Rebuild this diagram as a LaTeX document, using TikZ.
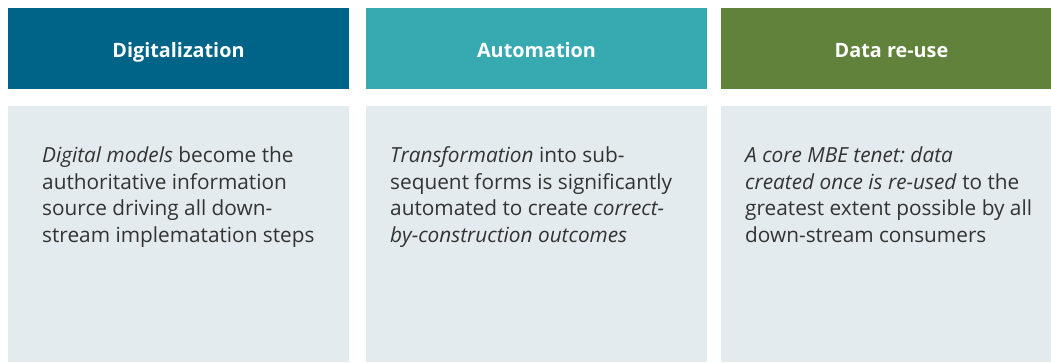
\documentclass[tikz,border=0pt]{standalone}
\usepackage{fontspec}
\setmainfont{Open Sans}
\frenchspacing
\usetikzlibrary{positioning}
\definecolor{petrol}{HTML}{006388}
\definecolor{lagoon}{HTML}{37A9B0}
\definecolor{moss}{HTML}{61823A}
\definecolor{pale}{HTML}{E3EBEE}
\definecolor{ink}{HTML}{333333}

\begin{document}
\begin{tikzpicture}[x=1pt, y=-1pt]
\tikzstyle{head}=[anchor=north west, minimum width=341pt, minimum height=81pt, inner sep=0pt, outer sep=0pt, text height=17.6pt, text depth=0pt, text=white, font=\fontsize{19.8}{22}\selectfont\bfseries]
\tikzstyle{body}=[anchor=north west, fill=pale, minimum width=341pt, minimum height=256pt, inner sep=0pt, outer sep=0pt]
\tikzstyle{blurb}=[anchor=north west, align=left, inner sep=0pt, text=ink, font=\fontsize{20.8}{26.6}\selectfont]
\useasboundingbox (0,0) rectangle (1051,362);
% headers
\node[head, fill=petrol]                 (dig)   at (8,8) {Digitalization};
\node[head, fill=lagoon, right=17pt of dig]  (auto)  {Automation};
\node[head, fill=moss, right=14pt of auto]   (reuse) {Data re-use};
% bodies
\node[body, below=17pt of dig]   (digbody)   {};
\node[body, below=17pt of auto]  (autobody)  {};
\node[body, below=17pt of reuse] (reusebody) {};
% texts
\node[blurb] (digtext) at ([xshift=34pt, yshift=-40.5pt]digbody.north west)
  {\textit{Digital models} become the\\authoritative information\\source driving all down-\\stream implematation steps};
\node[blurb] (autotext) at ([xshift=24pt, yshift=-40.5pt]autobody.north west)
  {\textit{Transformation} into sub-\\sequent forms is significantly\\automated to create \textit{correct-}\\\textit{by-construction outcomes}};
\node[blurb] (reusetext) at ([xshift=24pt, yshift=-40.5pt]reusebody.north west)
  {\textit{A core MBE tenet: data}\\\textit{created once is re-used} to the\\greatest extent possible by all\\down-stream consumers};
\end{tikzpicture}
\end{document}
